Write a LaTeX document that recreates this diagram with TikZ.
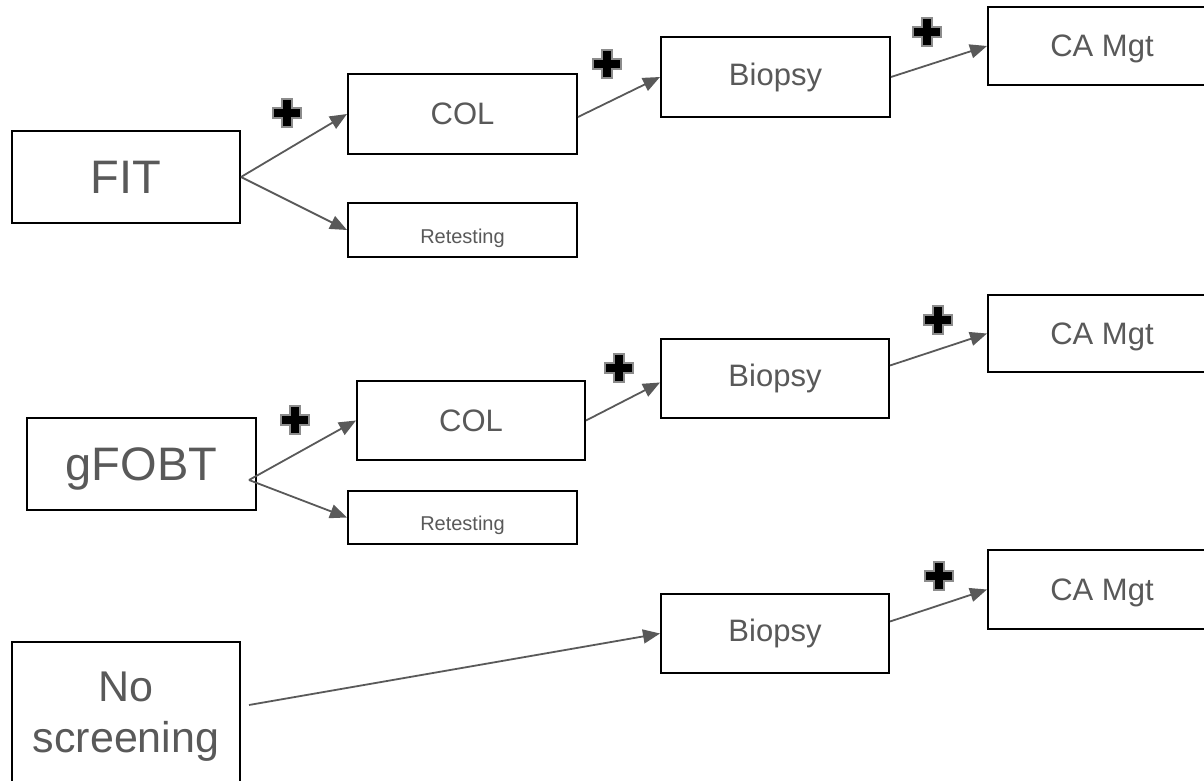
\documentclass[tikz,border=0pt]{standalone}
\usepackage{fontspec}
\setmainfont{Liberation Sans}
\usetikzlibrary{arrows.meta}

\definecolor{txtgray}{HTML}{595959}
\definecolor{linegray}{HTML}{595959}
\definecolor{plusedge}{HTML}{8C8C8C}

\begin{document}
\begin{tikzpicture}[x=1pt,y=-1pt,
  box/.style={draw=black, line width=2pt, fill=white, inner sep=0pt,
    text=txtgray, align=center},
  bigbox/.style={box, font=\fontsize{47}{56}\selectfont, text depth=0pt},
  midbox/.style={box, font=\fontsize{31}{37}\selectfont},
  retbox/.style={box, font=\fontsize{20}{24}\selectfont, text depth=0pt, text height=26pt},
  flow/.style={draw=linegray, line width=1.8pt,
    -{Triangle[length=17pt,width=14pt]}},
  plussign/.pic={
    \filldraw[fill=black, draw=plusedge, line width=1.5pt]
      (-5,-14)--(5,-14)--(5,-5)--(14,-5)--(14,5)--(5,5)--(5,14)
      --(-5,14)--(-5,5)--(-14,5)--(-14,-5)--(-5,-5)--cycle;
  }]
\useasboundingbox (0,0) rectangle (1204,781);

% FIT pathway
\node[bigbox, minimum width=228pt, minimum height=92pt] (fit) at (126,177) {FIT};
\node[midbox, minimum width=229pt, minimum height=80pt] (col1) at (462.5,114) {COL};
\node[retbox, minimum width=229pt, minimum height=54pt] (ret1) at (462.5,230) {Retesting};
\node[midbox, minimum width=229pt, minimum height=80pt] (bio1) at (775.5,77) {Biopsy};
\node[midbox, text depth=0pt, minimum width=228pt, minimum height=78pt] (ca1) at (1102,46) {CA Mgt};

% gFOBT pathway
\node[bigbox, minimum width=229pt, minimum height=92pt] (gfobt) at (141.5,464) {gFOBT};
\node[midbox, minimum width=228pt, minimum height=79pt] (col2) at (471,420.5) {COL};
\node[retbox, minimum width=229pt, minimum height=53pt] (ret2) at (462.5,517.5) {Retesting};
\node[midbox, minimum width=228pt, minimum height=79pt] (bio2) at (775,378.5) {Biopsy};
\node[midbox, text depth=0pt, minimum width=228pt, minimum height=77pt] (ca2) at (1102,333.5) {CA Mgt};

% No screening pathway
\node[box, font=\fontsize{43}{51}\selectfont, minimum width=228pt, minimum height=150pt] (nos) at (126,717) {No\\screening};
\node[midbox, minimum width=228pt, minimum height=79pt] (bio3) at (775,633.5) {Biopsy};
\node[midbox, text depth=0pt, minimum width=228pt, minimum height=79pt] (ca3) at (1102,589.5) {CA Mgt};

% connectors
\draw[flow] (fit.east) -- (col1.west);
\draw[flow] (fit.east) -- (ret1.west);
\draw[flow] ([yshift=-3pt]col1.east) -- (bio1.west);
\draw[flow] (bio1.east) -- (ca1.west);

\draw[flow] ([xshift=-8pt,yshift=-16pt]gfobt.east) -- (col2.west);
\draw[flow] ([xshift=-8pt,yshift=-16pt]gfobt.east) -- (ret2.west);
\draw[flow] (col2.east) -- ([yshift=-4pt]bio2.west);
\draw[flow] ([yshift=13pt]bio2.east) -- (ca2.west);

\draw[flow] ([xshift=8pt,yshift=12pt]nos.east) -- (bio3.west);
\draw[flow] ([yshift=12pt]bio3.east) -- (ca3.west);

% positive-result markers
\pic at (287,113) {plussign};
\pic at (607,64) {plussign};
\pic at (927,32) {plussign};
\pic at (295,420) {plussign};
\pic at (619,368) {plussign};
\pic at (938,320) {plussign};
\pic at (939,576) {plussign};
\end{tikzpicture}
\end{document}
